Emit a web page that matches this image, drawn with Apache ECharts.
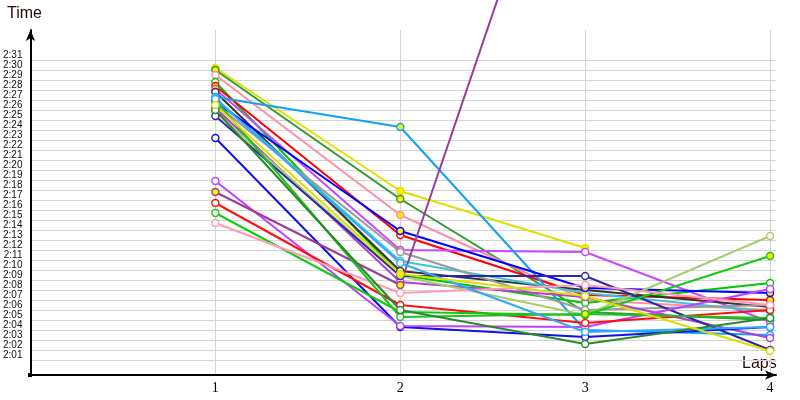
<!DOCTYPE html>
<html><head><meta charset="utf-8">
<script src="https://cdn.jsdelivr.net/npm/echarts@6/dist/echarts.min.js"></script>
<style>html,body{margin:0;padding:0;background:#fff}#c{width:800px;height:400px}</style>
</head><body><div id="c"></div>
<script>
// ---- data ----
const laps = [1, 2, 3, 4];
const yTickLabels = ['2:01','2:02','2:03','2:04','2:05','2:06','2:07','2:08','2:09','2:10',
  '2:11','2:12','2:13','2:14','2:15','2:16','2:17','2:18','2:19','2:20','2:21','2:22','2:23',
  '2:24','2:25','2:26','2:27','2:28','2:29','2:30','2:31'];
const seriesNames = ['yellowA','darkGreenA','pinkA','greenA','redA','magentaA','black','lightBlueA',
  'cyan','blueA','gray','purpleA','olive','navy','blueB','magentaB','purpleB','redB','greenB',
  'lightPink','greenC','lightBlueB','darkGreenB','yellowB'];
// lap times in seconds, laps 1..4
const yellowA    = [150.2, 137.9, 132.2, null];
const darkGreenA = [150.0, 137.1, 125.8, 125.0];
const pinkA      = [149.5, 135.5, 127.0, 126.0];
const greenA     = [148.8, 129.5, 126.7, 128.7];
const redA       = [148.4, 133.5, 127.5, 127.0];
const magentaA   = [148.1, 132.0, 131.8, 124.8];
const black      = [147.8, 129.9, 128.0, 126.3];
const lightBlueA = [147.3, 144.3, 124.0, 123.5];
const cyan       = [147.2, 130.9, 127.7, 125.8];
const blueA      = [146.8, 133.9, 128.2, 127.7];
const gray       = [146.6, 131.8, 126.0, 126.5];
const purpleA    = [146.2, 128.8, 127.3, 123.2];
const olive      = [145.8, 129.4, 125.5, 133.4];
const navy       = [145.4, 129.4, 129.4, 122.0];
const blueB      = [143.2, 124.3, 123.3, 124.3];
const magentaB   = [138.9, 124.4, 124.3, 128.1];
const purpleB    = [137.8, 128.5, 182.8, 176.0];
const redB       = [136.7, 126.5, 124.7, 126.0];
const greenB     = [135.7, 125.8, 125.5, 131.4];
const lightPink  = [134.7, 127.7, 128.5, 126.5];
const greenC     = [147.0, 125.3, 125.6, 125.2];
const lightBlueB = [147.1, 130.7, 123.8, 124.3];
const darkGreenB = [146.0, 126.0, 122.6, 125.2];
const yellowB    = [146.5, 129.6, 127.4, 121.9];
// points drawn with a yellow marker: [series name, lap]
const yellowMarked = [['yellowA',1],['yellowA',2],['yellowA',3],['darkGreenA',1],['darkGreenA',2],
  ['pinkA',2],['redA',1],['redA',4],['magentaA',1],['magentaA',2],['magentaA',4],['lightBlueA',1],
  ['lightBlueA',2],['blueA',1],['blueA',2],['blueA',3],['blueA',4],['greenA',2],['purpleB',1],
  ['purpleB',2],['greenB',4],['greenC',3],['greenC',4],['yellowB',2]];

const values = {yellowA,darkGreenA,pinkA,greenA,redA,magentaA,black,lightBlueA,cyan,blueA,gray,
  purpleA,olive,navy,blueB,magentaB,purpleB,redB,greenB,lightPink,greenC,lightBlueB,darkGreenB,yellowB};

// ---- styles ----
const colors = {yellowA:'#e0e000',darkGreenA:'#2f9a2f',pinkA:'#ff8fa8',greenA:'#00c800',redA:'#ff0000',
  magentaA:'#c848ff',black:'#333333',lightBlueA:'#12a0f5',cyan:'#3cc4d8',blueA:'#0000ff',gray:'#9a9a9a',
  purpleA:'#b040d0',olive:'#a8cc70',navy:'#2a2aa8',blueB:'#1010e8',magentaB:'#c040ff',purpleB:'#9a3a9a',
  redB:'#ff1010',greenB:'#10cc10',lightPink:'#ff9cb0',greenC:'#20c020',lightBlueB:'#30a8ff',
  darkGreenB:'#2a8a2a',yellowB:'#dede00'};

const tickVals = yTickLabels.map(s => { const p = s.split(':'); return (+p[0]) * 60 + (+p[1]); });
const fmt = v => { const m = Math.floor(v / 60), s = Math.round(v - m * 60); return m + ':' + (s < 10 ? '0' : '') + s; };

const series = seriesNames.map(name => {
  const c = colors[name];
  const data = laps.map((l, i) => {
    const v = values[name][i];
    if (v == null) return null;
    const item = { value: [l, v] };
    if (yellowMarked.some(p => p[0] === name && p[1] === l)) item.itemStyle = { color: '#ffee00' };
    return item;
  }).filter(d => d);
  return {
    name, type: 'line', data, clip: name !== 'purpleB',
    symbol: 'circle', symbolSize: 7, showSymbol: true,
    lineStyle: { color: c, width: 2 },
    itemStyle: { color: '#ffffff', borderColor: c, borderWidth: 1.4 },
    emphasis: { disabled: true }, z: 3
  };
});

const chart = echarts.init(document.getElementById('c'), null, { renderer: 'canvas' });
chart.setOption({
  animation: false,
  backgroundColor: '#ffffff',
  grid: { left: 30, right: 24, top: 30, bottom: 25, containLabel: false },
  xAxis: {
    type: 'value', min: 0, max: 4.032, interval: 1,
    axisLine: { show: true, lineStyle: { color: '#000', width: 2 }, symbol: ['none', 'arrow'], symbolSize: [7, 11] },
    axisTick: { show: false },
    axisLabel: { formatter: v => laps.includes(v) ? String(v) : '', fontFamily: 'Liberation Serif', fontSize: 14, color: '#000', margin: 6 },
    splitLine: { show: true, showMinLine: false, showMaxLine: false, lineStyle: { color: '#d4d4d4', width: 1 } }
  },
  yAxis: {
    type: 'value', min: 119.5, max: 154,
    axisLine: { show: true, lineStyle: { color: '#000', width: 2 }, symbol: ['none', 'arrow'], symbolSize: [7, 11] },
    axisTick: { show: false, customValues: tickVals },
    axisLabel: { customValues: tickVals, formatter: fmt, fontFamily: 'Liberation Sans', fontSize: 10, color: '#111',
      margin: 8, verticalAlign: 'bottom', lineHeight: 10 },
    splitLine: { show: true, lineStyle: { color: '#d4d4d4', width: 1 } }
  },
  graphic: [
    { type: 'text', left: 7, top: 6, style: { text: 'Time', font: '16px "Liberation Sans"', fill: '#2b0a0a' } },
    { type: 'text', left: 742, top: 356, style: { text: 'Laps', font: '16px "Liberation Sans"', fill: '#2b0a0a' } },
    { type: 'rect', shape: { x: 28, y: 373, width: 4, height: 4 }, style: { fill: '#000' } }
  ],
  series
});
</script></body></html>
